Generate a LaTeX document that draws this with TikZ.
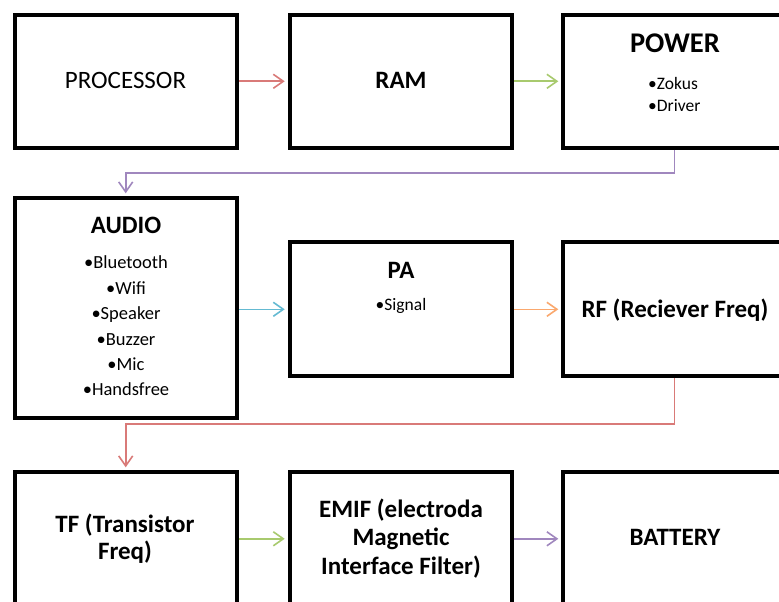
\documentclass[tikz,border=0pt]{standalone}
\usepackage{fontspec}
\setmainfont{Carlito}
\usetikzlibrary{arrows.meta}
\definecolor{cred}{RGB}{217,122,120}
\definecolor{cgreen}{RGB}{168,202,110}
\definecolor{ccyan}{RGB}{100,186,210}
\definecolor{corange}{RGB}{250,168,110}
\definecolor{cpurple}{RGB}{160,135,190}
\tikzset{
  box/.style={draw=black, line width=4pt, minimum width=222pt, inner sep=0pt, align=center},
  ttl/.style={font=\fontsize{25}{27}\selectfont\bfseries, align=center, inner sep=0pt},
  itm/.style={font=\fontsize{18.5}{25.4}\selectfont, align=center, inner sep=0pt},
  conn/.style={line width=1.6pt, -{Straight Barb[length=10pt,width=14pt,line width=1.6pt]}, shorten >=3pt, shorten <=0.5pt}
}
\begin{document}
\begin{tikzpicture}[x=1pt,y=-1pt]
\clip (0,0) rectangle (779,602);
\fill[white] (0,0) rectangle (779,602);
% row 1
\node[box, minimum height=133pt] (proc) at (125.7,81.3) {};
\node[box, minimum height=133pt] (ram) at (400.7,81.3) {};
\node[box, minimum height=133pt] (power) at (674.3,81.3) {};
\node[font=\fontsize{25}{27}\selectfont, inner sep=0pt] (proct) at (125.5,80) {PROCESSOR};
\node[ttl] (ramt) at (401,80) {RAM};
\node[ttl, font=\fontsize{28.5}{30}\selectfont\bfseries] (powt) at (675,43) {POWER};
\node[itm, align=left, anchor=west, font=\fontsize{17.5}{22}\selectfont] (powi) at (648,94) {•Zokus\\•Driver};
% row 2
\node[box, minimum height=220pt] (audio) at (125.7,308.3) {};
\node[box, minimum height=134pt] (pa) at (400.7,309.3) {};
\node[box, minimum height=134pt] (rf) at (674.3,309.3) {};
\node[ttl] (audt) at (126,225) {AUDIO};
\node[itm] (audi) at (126,326) {•Bluetooth\\•Wifi\\•Speaker\\•Buzzer\\•Mic\\•Handsfree};
\node[ttl] (pat) at (401,270) {PA};
\node[itm, font=\fontsize{17.5}{22}\selectfont] (pai) at (401,306) {•Signal};
\node[ttl] (rft) at (675,310) {RF (Reciever Freq)};
% row 3
\node[box, minimum height=133pt] (tf) at (125.7,538.8) {};
\node[box, minimum height=133pt] (emif) at (400.7,538.8) {};
\node[box, minimum height=133pt] (bat) at (674.3,538.8) {};
\node[ttl] (tft) at (125,538.5) {TF (Transistor\\Freq)};
\node[ttl, font=\fontsize{25}{28.5}\selectfont\bfseries] (emt) at (401,538.5) {EMIF (electroda\\Magnetic\\Interface Filter)};
\node[ttl] (batt) at (675,537) {BATTERY};
% connectors
\draw[conn, cred] (proc) -- (ram);
\draw[conn, cgreen] (ram) -- (power);
\draw[conn, cpurple, shorten <=0pt] (power.south) |- (125.7,173) -- (audio.north);
\draw[conn, ccyan] (audio.east |- pa.east) -- (pa.west);
\draw[conn, corange] (pa) -- (rf);
\draw[conn, cred, shorten <=0pt] (rf.south) |- (125.7,424) -- (tf.north);
\draw[conn, cgreen] (tf) -- (emif);
\draw[conn, cpurple] (emif) -- (bat);
\end{tikzpicture}
\end{document}
